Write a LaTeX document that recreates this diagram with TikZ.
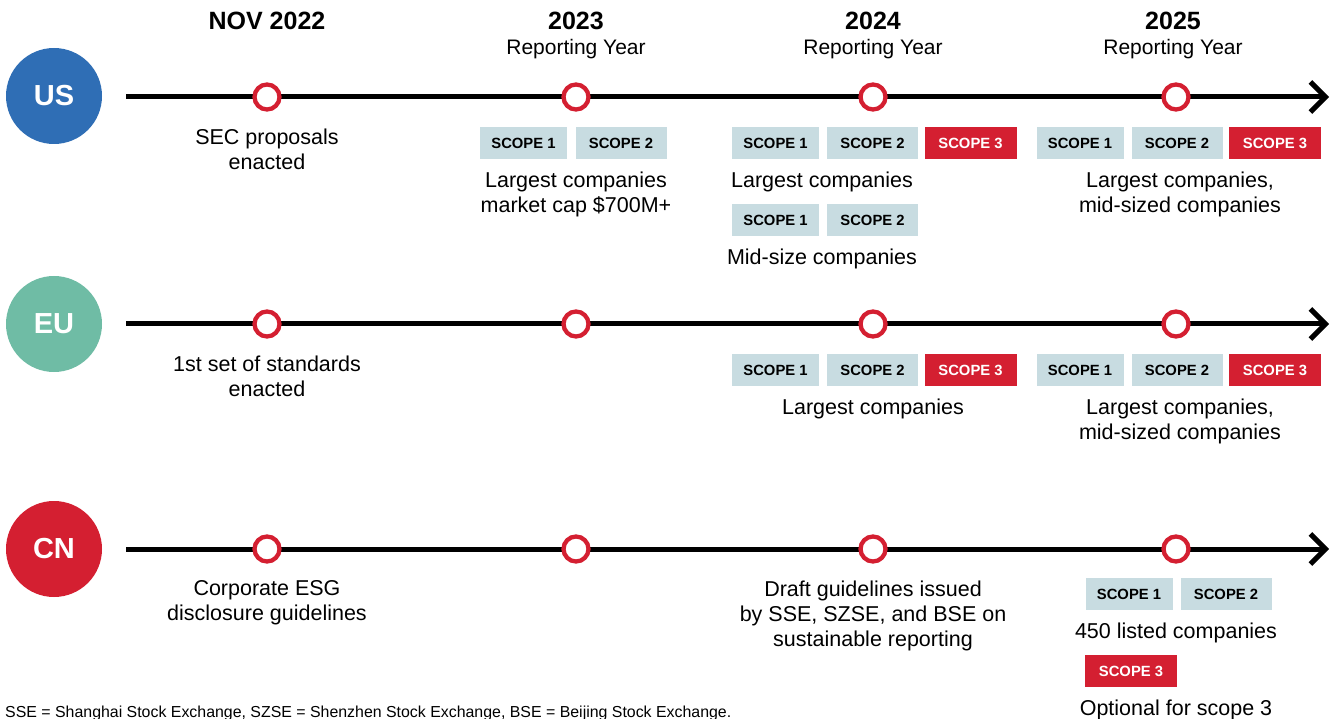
\documentclass[tikz,border=0pt]{standalone}
\usepackage{fontspec}
\setmainfont{Liberation Sans}
\usetikzlibrary{arrows.meta}
\definecolor{usblue}{HTML}{2F6EB5}
\definecolor{euteal}{HTML}{6FBCA5}
\definecolor{cnred}{HTML}{D41F31}
\definecolor{scopegrey}{HTML}{C8DCE1}

\begin{document}
\begin{tikzpicture}[x=1pt,y=-1pt,
  country/.style={circle,minimum size=96pt,inner sep=0pt,text=white,
    font=\fontsize{29}{29}\selectfont\bfseries},
  track/.style={line width=5pt,-{Straight Barb[length=15pt,width=30pt]}},
  milestone/.style={circle,draw=cnred,line width=4.3pt,fill=white,minimum size=25pt,inner sep=0pt},
  yearlabel/.style={anchor=base,inner sep=0pt,font=\fontsize{25}{25}\selectfont\bfseries},
  sublabel/.style={anchor=base,inner sep=0pt,font=\fontsize{21}{21}\selectfont},
  desc/.style={align=center,anchor=north,inner sep=0pt,font=\fontsize{21.5}{25}\selectfont},
  scopebox/.style={minimum height=32pt,inner sep=0pt,fill=scopegrey,
    font=\fontsize{14.8}{14.8}\selectfont\bfseries},
  scopeone/.style={scopebox,minimum width=87pt},
  scopetwo/.style={scopebox,minimum width=91pt},
  scopethree/.style={scopebox,minimum width=92pt,fill=cnred,text=white},
  note/.style={anchor=base west,inner sep=0pt,font=\fontsize{15.9}{15.9}\selectfont}
]
\useasboundingbox (0,0) rectangle (1331,719);

% column headers
\node[yearlabel] (hnov) at (267,30) {NOV 2022};
\node[yearlabel] (h23) at (576,30) {2023};
\node[sublabel] (h23r) at (576,55) {Reporting Year};
\node[yearlabel] (h24) at (873,30) {2024};
\node[sublabel] (h24r) at (873,55) {Reporting Year};
\node[yearlabel] (h25) at (1173,30) {2025};
\node[sublabel] (h25r) at (1173,55) {Reporting Year};

% region badges
\node[country,fill=usblue] (us) at (54,96) {US};
\node[country,fill=euteal] (eu) at (54,324) {EU};
\node[country,fill=cnred] (cn) at (54,549) {CN};

% timelines
\coordinate (us-a) at (126,97);  \coordinate (us-b) at (1329,97);
\coordinate (eu-a) at (126,324); \coordinate (eu-b) at (1329,324);
\coordinate (cn-a) at (126,549); \coordinate (cn-b) at (1329,549);
\draw[track] (us-a) -- (us-b);
\draw[track] (eu-a) -- (eu-b);
\draw[track] (cn-a) -- (cn-b);

\foreach \r/\y in {us/97,eu/324,cn/549}{
  \node[milestone] (\r-m1) at (267,\y) {};
  \node[milestone] (\r-m2) at (576,\y) {};
  \node[milestone] (\r-m3) at (873,\y) {};
  \node[milestone] (\r-m4) at (1176,\y) {};
}

% US
\node[desc] (us-t1) at (267,128.5) {SEC proposals\\enacted};
\node[scopeone] (us23s1) at (523.5,143) {SCOPE 1};
\node[scopetwo] (us23s2) at (621,143) {SCOPE 2};
\node[desc] (us-t2) at (576,171.5) {Largest companies\\market cap \$700M+};
\node[scopeone] (us24s1) at (775.5,143) {SCOPE 1};
\node[scopetwo] (us24s2) at (872.5,143) {SCOPE 2};
\node[scopethree] (us24s3) at (970.5,143) {SCOPE 3};
\node[desc] (us-t3) at (822,171.5) {Largest companies};
\node[scopeone] (us24m1) at (775.5,220) {SCOPE 1};
\node[scopetwo] (us24m2) at (872.5,220) {SCOPE 2};
\node[desc] (us-t4) at (822,248.5) {Mid-size companies};
\node[scopeone] (us25s1) at (1080,143) {SCOPE 1};
\node[scopetwo] (us25s2) at (1177,143) {SCOPE 2};
\node[scopethree] (us25s3) at (1275,143) {SCOPE 3};
\node[desc] (us-t5) at (1180,171.5) {Largest companies,\\mid-sized companies};

% EU
\node[desc] (eu-t1) at (267,355.5) {1st set of standards\\enacted};
\node[scopeone] (eu24s1) at (775.5,370) {SCOPE 1};
\node[scopetwo] (eu24s2) at (872.5,370) {SCOPE 2};
\node[scopethree] (eu24s3) at (970.5,370) {SCOPE 3};
\node[desc] (eu-t2) at (873,398.5) {Largest companies};
\node[scopeone] (eu25s1) at (1080,370) {SCOPE 1};
\node[scopetwo] (eu25s2) at (1177,370) {SCOPE 2};
\node[scopethree] (eu25s3) at (1275,370) {SCOPE 3};
\node[desc] (eu-t3) at (1180,398.5) {Largest companies,\\mid-sized companies};

% CN
\node[desc] (cn-t1) at (267,580.5) {Corporate ESG\\disclosure guidelines};
\node[desc] (cn-t2) at (873,580.5) {Draft guidelines issued\\by SSE, SZSE, and BSE on\\sustainable reporting};
\node[scopeone] (cn25s1) at (1129,594) {SCOPE 1};
\node[scopetwo] (cn25s2) at (1226,594) {SCOPE 2};
\node[desc] (cn-t3) at (1176,622.5) {450 listed companies};
\node[scopethree] (cn25s3) at (1131,671) {SCOPE 3};
\node[desc] (cn-t4) at (1176,699.5) {Optional for scope 3};

% footnote
\node[note] (fn) at (5,717) {SSE = Shanghai Stock Exchange, SZSE = Shenzhen Stock Exchange, BSE = Beijing Stock Exchange.};
\end{tikzpicture}
\end{document}
